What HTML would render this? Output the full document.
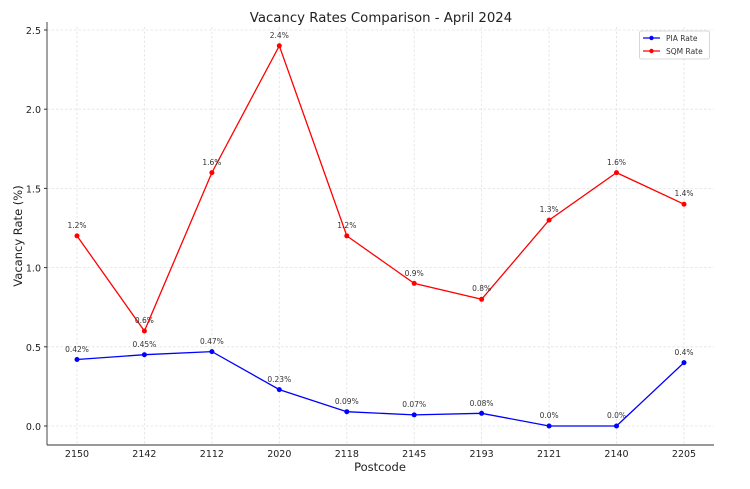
<!DOCTYPE html><html><head><meta charset="utf-8"><style>body{margin:0;background:#fff}</style></head><body>
<svg width="750" height="484" viewBox="0 0 750 484" xmlns="http://www.w3.org/2000/svg" font-family="DejaVu Sans, Liberation Sans, sans-serif">
<rect width="750" height="484" fill="#fff"/>
<text x="381" y="22" font-size="13.3" text-anchor="middle" fill="#222">Vacancy Rates Comparison - April 2024</text>
<g stroke="#e2e2e2" stroke-width="0.8" stroke-dasharray="2.5,2">
<line x1="77" y1="27" x2="77" y2="445"/><line x1="144.4" y1="27" x2="144.4" y2="445"/><line x1="211.9" y1="27" x2="211.9" y2="445"/><line x1="279.3" y1="27" x2="279.3" y2="445"/><line x1="346.8" y1="27" x2="346.8" y2="445"/><line x1="414.2" y1="27" x2="414.2" y2="445"/><line x1="481.6" y1="27" x2="481.6" y2="445"/><line x1="549.1" y1="27" x2="549.1" y2="445"/><line x1="616.5" y1="27" x2="616.5" y2="445"/><line x1="684" y1="27" x2="684" y2="445"/>
<line x1="47" y1="426" x2="714" y2="426"/><line x1="47" y1="346.8" x2="714" y2="346.8"/><line x1="47" y1="267.6" x2="714" y2="267.6"/><line x1="47" y1="188.4" x2="714" y2="188.4"/><line x1="47" y1="109.2" x2="714" y2="109.2"/><line x1="47" y1="30" x2="714" y2="30"/>
</g>
<line x1="47" y1="22" x2="47" y2="445" stroke="#333" stroke-width="0.9"/>
<line x1="47" y1="445" x2="714" y2="445" stroke="#333" stroke-width="0.9"/>
<g font-size="9.5" fill="#222" text-anchor="end">
<text x="41" y="430">0.0</text><text x="41" y="350.8">0.5</text><text x="41" y="271.6">1.0</text><text x="41" y="192.4">1.5</text><text x="41" y="113.2">2.0</text><text x="41" y="34">2.5</text></g>
<g stroke="#333"><line x1="44" y1="426" x2="47" y2="426"/><line x1="44" y1="346.8" x2="47" y2="346.8"/><line x1="44" y1="267.6" x2="47" y2="267.6"/><line x1="44" y1="188.4" x2="47" y2="188.4"/><line x1="44" y1="109.2" x2="47" y2="109.2"/><line x1="44" y1="30" x2="47" y2="30"/></g>
<g font-size="9.5" fill="#222" text-anchor="middle">
<text x="77" y="457">2150</text><text x="144.4" y="457">2142</text><text x="211.9" y="457">2112</text><text x="279.3" y="457">2020</text><text x="346.8" y="457">2118</text><text x="414.2" y="457">2145</text><text x="481.6" y="457">2193</text><text x="549.1" y="457">2121</text><text x="616.5" y="457">2140</text><text x="684" y="457">2205</text></g>
<text x="380" y="471" font-size="11.5" text-anchor="middle" fill="#222">Postcode</text>
<text transform="translate(22,236) rotate(-90)" font-size="11.5" text-anchor="middle" fill="#222">Vacancy Rate (%)</text>
<polyline fill="none" stroke="#00f" stroke-width="1.3" points="77,359.5 144.4,354.7 211.9,351.6 279.3,389.6 346.8,411.7 414.2,414.9 481.6,413.3 549.1,426 616.5,426 684,362.6"/>
<polyline fill="none" stroke="#f00" stroke-width="1.3" points="77,235.9 144.4,331 211.9,172.6 279.3,45.8 346.8,235.9 414.2,283.4 481.6,299.3 549.1,220.1 616.5,172.6 684,204.2"/>
<g fill="#00f"><circle cx="77" cy="359.5" r="2.5"/><circle cx="144.4" cy="354.7" r="2.5"/><circle cx="211.9" cy="351.6" r="2.5"/><circle cx="279.3" cy="389.6" r="2.5"/><circle cx="346.8" cy="411.7" r="2.5"/><circle cx="414.2" cy="414.9" r="2.5"/><circle cx="481.6" cy="413.3" r="2.5"/><circle cx="549.1" cy="426" r="2.5"/><circle cx="616.5" cy="426" r="2.5"/><circle cx="684" cy="362.6" r="2.5"/></g>
<g fill="#f00"><circle cx="77" cy="235.9" r="2.5"/><circle cx="144.4" cy="331" r="2.5"/><circle cx="211.9" cy="172.6" r="2.5"/><circle cx="279.3" cy="45.8" r="2.5"/><circle cx="346.8" cy="235.9" r="2.5"/><circle cx="414.2" cy="283.4" r="2.5"/><circle cx="481.6" cy="299.3" r="2.5"/><circle cx="549.1" cy="220.1" r="2.5"/><circle cx="616.5" cy="172.6" r="2.5"/><circle cx="684" cy="204.2" r="2.5"/></g>
<g font-size="7.5" fill="#333" text-anchor="middle">
<text x="77" y="352">0.42%</text><text x="144.4" y="347">0.45%</text><text x="211.9" y="344">0.47%</text><text x="279.3" y="382">0.23%</text><text x="346.8" y="404">0.09%</text><text x="414.2" y="407">0.07%</text><text x="481.6" y="406">0.08%</text><text x="549.1" y="418">0.0%</text><text x="616.5" y="418">0.0%</text><text x="684" y="355">0.4%</text>
<text x="77" y="228">1.2%</text><text x="144.4" y="323">0.6%</text><text x="211.9" y="165">1.6%</text><text x="279.3" y="38">2.4%</text><text x="346.8" y="228">1.2%</text><text x="414.2" y="276">0.9%</text><text x="481.6" y="291">0.8%</text><text x="549.1" y="212">1.3%</text><text x="616.5" y="165">1.6%</text><text x="684" y="196">1.4%</text></g>
<rect x="639.5" y="31" width="70" height="28" rx="2" fill="#fff" stroke="#ccc" stroke-width="0.8"/>
<line x1="643" y1="38" x2="660" y2="38" stroke="#00f" stroke-width="1.3"/><circle cx="651.5" cy="38" r="2.2" fill="#00f"/>
<line x1="643" y1="51" x2="660" y2="51" stroke="#f00" stroke-width="1.3"/><circle cx="651.5" cy="51" r="2.2" fill="#f00"/>
<text x="666" y="41" font-size="7.5" fill="#333">PIA Rate</text><text x="666" y="54" font-size="7.5" fill="#333">SQM Rate</text>
</svg></body></html>
